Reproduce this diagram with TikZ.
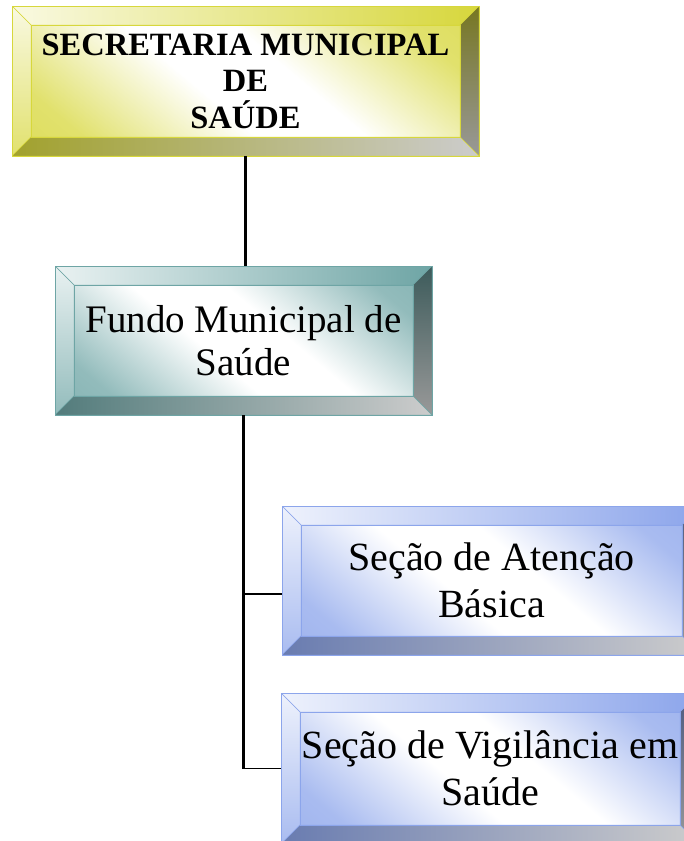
\documentclass[tikz,border=0pt]{standalone}
\usepackage{fontspec}
\setmainfont{Liberation Serif}
\definecolor{yel}{RGB}{215,215,60}
\definecolor{tea}{RGB}{110,165,165}
\definecolor{blu}{RGB}{140,165,235}
\colorlet{facecol}{blu}
\pgfdeclareverticalshading[facecol]{facesh}{100bp}{color(0bp)=(facecol); color(25bp)=(facecol!75!white);
  color(44bp)=(white); color(56bp)=(white); color(75bp)=(facecol!75!white); color(100bp)=(facecol)}

\begin{document}
\begin{tikzpicture}[x=1pt,y=1pt]
\tikzset{box/.style = {rectangle, draw=#1, line width=0.8pt, inner sep=0pt, align=center,
  /utils/exec={\colorlet{facecol}{#1}}, shading=facesh, shading angle=-40,
  path picture={
    \coordinate (nw) at (path picture bounding box.north west);
    \coordinate (ne) at (path picture bounding box.north east);
    \coordinate (sw) at (path picture bounding box.south west);
    \coordinate (se) at (path picture bounding box.south east);
    \path[draw=#1, line width=0.4pt, left color=white!85!#1, right color=#1]
      (nw) -- (ne) -- ([shift={(-19,-19)}]ne) -- ([shift={(19,-19)}]nw) -- cycle;
    \path[draw=#1, line width=0.4pt, top color=white!85!#1, bottom color=#1!75!white]
      (nw) -- ([shift={(19,-19)}]nw) -- ([shift={(19,19)}]sw) -- (sw) -- cycle;
    \path[draw=#1, line width=0.4pt, top color=#1!55!black, bottom color=black!40]
      (ne) -- (se) -- ([shift={(-19,19)}]se) -- ([shift={(-19,-19)}]ne) -- cycle;
    \path[draw=#1, line width=0.4pt, left color=#1!75!black, right color=black!20]
      (sw) -- ([shift={(19,19)}]sw) -- ([shift={(-19,19)}]se) -- (se) -- cycle;
    \draw[#1, line width=0.6pt] ([shift={(19,-19)}]nw) rectangle ([shift={(-19,19)}]se);
  }}}
\tikzset{edge/.style = {line width=2.6pt}}
\tikzset{branch/.style = {line width=1.5pt}}

\fill[white] (0,0) rectangle (684,-841);
\useasboundingbox (0,0) rectangle (684,-841);
\clip (0,0) rectangle (684,-841);

% organogram
\node[box=yel, minimum width=467, minimum height=150,
  font=\fontsize{32.5}{36.5}\selectfont\bfseries] (A) at (245.5,-81) {SECRETARIA MUNICIPAL\\DE\\SAÚDE};
\node[box=tea, minimum width=377, minimum height=149,
  font=\fontsize{39}{43}\selectfont] (B) at (243.5,-340.5) {Fundo Municipal de\\Saúde};
\node[box=blu, minimum width=419, minimum height=149,
  font=\fontsize{40}{47}\selectfont] (C) at (491.5,-580.5) {Seção de Atenção\\Básica};
\node[box=blu, minimum width=418, minimum height=151,
  font=\fontsize{40}{47}\selectfont] (D) at (490,-768.5) {Seção de Vigilância em\\Saúde};

\coordinate (c) at ([yshift=-13.5]C.west);

\draw[edge] (A.south) -- (A.south |- B.north);
\draw[edge] (B.south) -- (B.south |- D.west);
\draw[branch] (B.south |- c) -- (c);
\draw[branch] (B.south |- D.west) -- (D.west);

\end{tikzpicture}
\end{document}
